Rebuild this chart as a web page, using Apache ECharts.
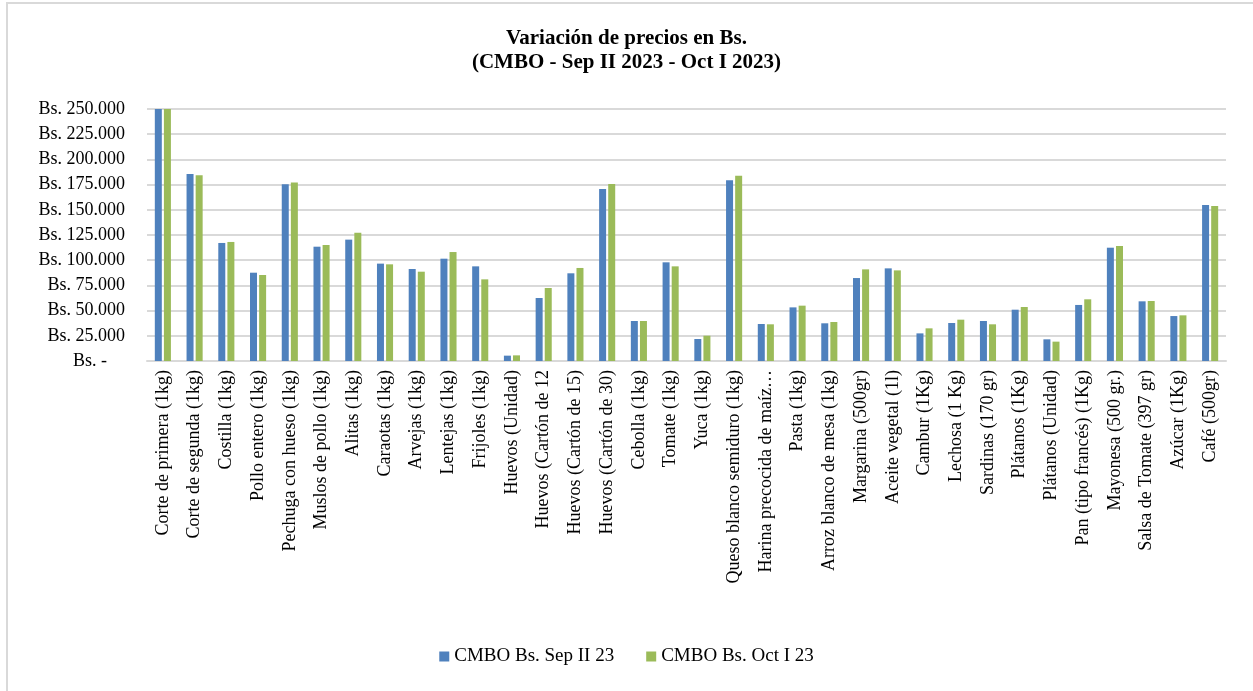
<!DOCTYPE html>
<html>
<head>
<meta charset="utf-8">
<script src="https://cdn.jsdelivr.net/npm/echarts@6/dist/echarts.min.js"></script>
<style>
	html, body { margin: 0; padding: 0; background: #fff; overflow: hidden; }
	#frame { position: absolute; left: 6px; top: 2px; width: 1400px; height: 800px;
		border-left: 2px solid #d9d9d9; border-top: 2px solid #d9d9d9; }
	#chart { position: absolute; left: 0; top: 0; width: 1253px; height: 691px; }
</style>
</head>
<body>
<div id="frame"></div>
<div id="chart"></div>
<script>
	// productos
	var categories = [
		'Corte de primera (1kg)', 'Corte de segunda (1kg)', 'Costilla (1kg)', 'Pollo entero (1kg)',
		'Pechuga con hueso (1kg)', 'Muslos de pollo (1kg)', 'Alitas (1kg)', 'Caraotas (1kg)',
		'Arvejas (1kg)', 'Lentejas (1kg)', 'Frijoles (1kg)', 'Huevos (Unidad)',
		'Huevos (Cartón de 12', 'Huevos (Cartón de 15)', 'Huevos (Cartón de 30)', 'Cebolla (1kg)',
		'Tomate (1kg)', 'Yuca (1kg)', 'Queso blanco semiduro (1kg)', 'Harina precocida de maíz…',
		'Pasta (1kg)', 'Arroz blanco de mesa (1kg)', 'Margarina (500gr)', 'Aceite vegetal (1l)',
		'Cambur (1Kg)', 'Lechosa (1 Kg)', 'Sardinas (170 gr)', 'Plátanos (1Kg)',
		'Plátanos (Unidad)', 'Pan (tipo francés) (1Kg)', 'Mayonesa (500 gr.)', 'Salsa de Tomate (397 gr)',
		'Azúcar (1Kg)', 'Café (500gr)'
	];
	var sepII = [
		250000, 185500, 117100, 87600, 175300, 113400, 120400, 96600,
		91300, 101500, 93900, 5300, 62500, 87000, 170600, 39700,
		97900, 21800, 179200, 36700, 53200, 37400, 82300, 91900,
		27400, 37700, 39700, 50900, 21500, 55600, 112400, 59200,
		44600, 154800
	];
	var octI = [
		250000, 184200, 118100, 85300, 177200, 115100, 127300, 95900,
		88600, 108100, 81000, 5600, 72400, 92300, 175600, 39700,
		93900, 25100, 183900, 36400, 54900, 38700, 90900, 89900,
		32400, 41000, 36400, 53600, 19200, 61200, 114100, 59500,
		45300, 153800
	];
	var seriesNames = ['CMBO Bs. Sep II 23', 'CMBO Bs. Oct I 23'];

	function fmtBs(v) {
		if (v === 0) return 'Bs. -    ';
		return 'Bs. ' + String(v).replace(/\B(?=(\d{3})+(?!\d))/g, '.');
	}

	var font = '"Liberation Serif", "DejaVu Serif", serif';
	var myChart = echarts.init(document.getElementById('chart'));
	var option = {
		animation: false,
		color: ['#4f81bd', '#9bbb59'],
		textStyle: { fontFamily: font },
		title: {
			text: 'Variación de precios en Bs.\n(CMBO - Sep II 2023 - Oct I 2023)',
			left: 'center',
			top: 22,
			textStyle: { fontFamily: font, fontSize: 21, fontWeight: 'bold', color: '#000', lineHeight: 24 }
		},
		legend: {
			data: seriesNames,
			bottom: 20,
			left: 'center',
			itemWidth: 10,
			itemHeight: 10,
			itemGap: 32,
			icon: 'rect',
			textStyle: { fontFamily: font, fontSize: 19, color: '#000' }
		},
		grid: { left: 147, right: 27, top: 109, bottom: 330 },
		xAxis: {
			type: 'category',
			data: categories,
			axisTick: { show: false },
			axisLine: { lineStyle: { color: '#d9d9d9', width: 2 } },
			axisLabel: {
				rotate: 90,
				interval: 0,
				margin: 9,
				fontFamily: font,
				fontSize: 18,
				color: '#000'
			}
		},
		yAxis: {
			type: 'value',
			min: 0,
			max: 250000,
			interval: 25000,
			axisLine: { show: false },
			axisTick: { show: false },
			splitLine: { lineStyle: { color: '#d9d9d9', width: 2 } },
			axisLabel: {
				formatter: fmtBs,
				margin: 22,
				fontFamily: font,
				fontSize: 18,
				color: '#000'
			}
		},
		series: [
			{ name: seriesNames[0], type: 'bar', data: sepII, barWidth: 7, barGap: '30%', clip: true },
			{ name: seriesNames[1], type: 'bar', data: octI, barWidth: 7, barGap: '30%', clip: true }
		]
	};
	myChart.setOption(option);
</script>
</body>
</html>
